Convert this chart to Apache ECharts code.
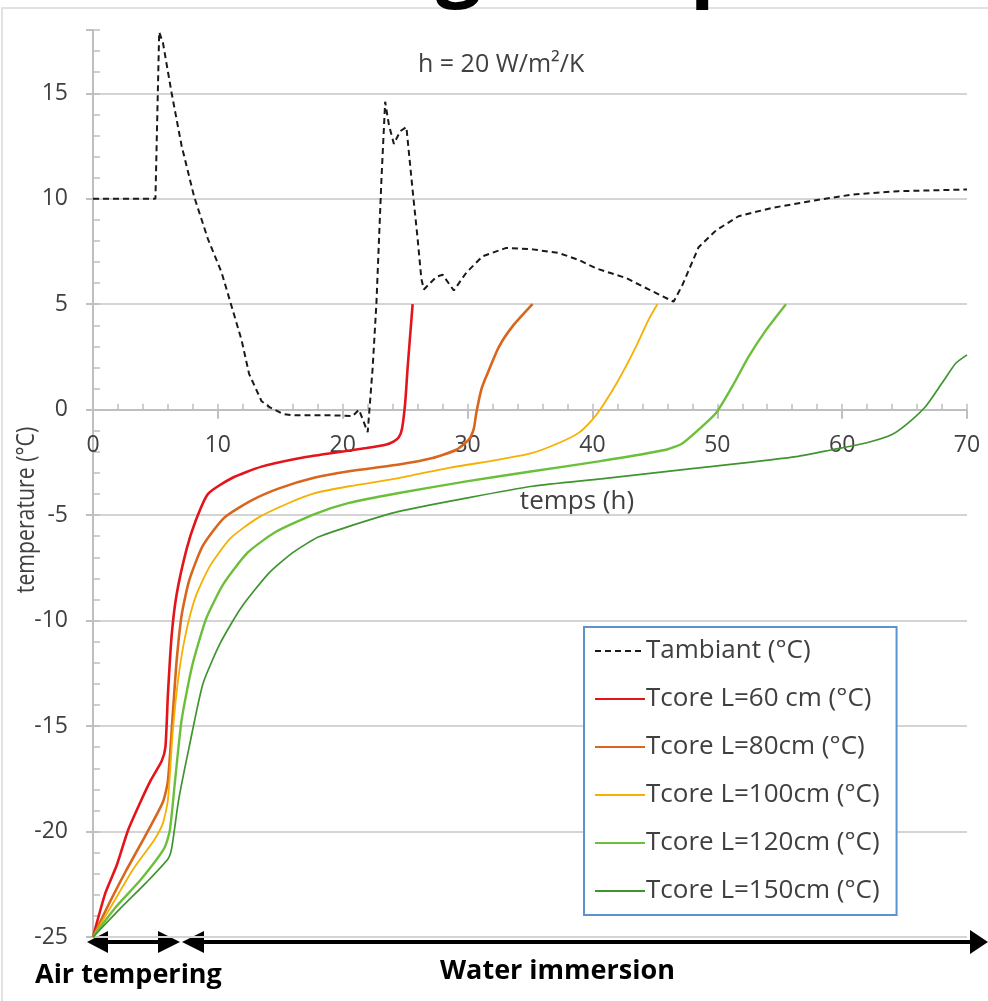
<!DOCTYPE html>
<html>
<head>
<meta charset="utf-8">
<script src="https://cdn.jsdelivr.net/npm/echarts@6/dist/echarts.min.js"></script>
<style>
  html, body { margin: 0; padding: 0; background: #fff; }
  #chart { width: 988px; height: 1001px; }
</style>
</head>
<body>
<div id="chart"></div>
<script>
// axes
var xTicks = [0, 10, 20, 30, 40, 50, 60, 70];
var yTicks = [-25, -20, -15, -10, -5, 0, 5, 10, 15];
var yMax = 18;

// ambient temperature (dashed)
var timeAmb = [0, 5, 5.3, 5.6, 6.3, 7.1, 8.1, 9.2, 10.3, 11.1, 11.9, 12.5, 13.5, 14.2, 15.2, 16, 19.2, 20.8, 21.3, 22.0, 22.4, 22.7, 23.1, 23.4, 23.7, 24.1, 24.6, 25.1, 25.6, 26.0, 26.3, 26.5, 27.0, 27.5, 28.0, 28.9, 29.9, 31.2, 33.1, 35.2, 37.3, 38.9, 40.3, 42.7, 44.5, 46.5, 47.2, 48.5, 49.9, 51.7, 54.4, 57.9, 60.8, 64.5, 70];
var tempAmb = [10, 10, 17.9, 17.4, 15.0, 12.5, 10.1, 8.1, 6.5, 4.9, 3.3, 1.7, 0.4, 0.1, -0.2, -0.27, -0.27, -0.3, 0, -1.07, 2, 5.05, 10.9, 14.6, 13.5, 12.6, 13.2, 13.4, 10.4, 8.1, 6.2, 5.7, 6.0, 6.3, 6.4, 5.65, 6.5, 7.27, 7.67, 7.6, 7.43, 7.1, 6.7, 6.24, 5.7, 5.12, 5.9, 7.7, 8.5, 9.17, 9.57, 9.93, 10.2, 10.36, 10.44];

// core temperatures
var time60 = [0, 1.0, 1.9, 2.8, 3.8, 4.6, 5.5, 5.8, 6.0, 6.3, 6.7, 7.5, 8.2, 9.2, 11.1, 13.5, 16.5, 19.2, 21.9, 23.5, 24.1, 24.5, 24.75, 25.0, 25.2, 25.6];
var temp60 = [-25, -22.9, -21.6, -19.95, -18.6, -17.6, -16.66, -16.0, -13.5, -10.7, -8.75, -6.6, -5.3, -4.0, -3.25, -2.7, -2.3, -2.05, -1.82, -1.65, -1.5, -1.3, -0.9, 0.3, 2.0, 5.0];

var time80 = [0, 1.3, 2.7, 4.1, 5.6, 6.0, 6.4, 6.7, 7.1, 7.7, 8.8, 10.5, 12.7, 14.9, 17.7, 20.5, 24.5, 27.2, 29.1, 30.1, 30.5, 30.7, 31.1, 31.5, 32.5, 33.6, 35.2];
var temp80 = [-25, -23.4, -21.8, -20.3, -18.6, -17.6, -14.35, -11.9, -9.74, -8.1, -6.45, -5.13, -4.3, -3.73, -3.23, -2.92, -2.6, -2.29, -1.9, -1.42, -0.9, -0.16, 0.95, 1.58, 2.97, 3.95, 5.0];

var time100 = [0, 1.6, 3.2, 4.9, 5.6, 6.0, 6.4, 6.84, 7.4, 8.2, 9.35, 11.0, 13.2, 15.5, 17.7, 20.5, 24.5, 28.5, 32.5, 35.2, 37.3, 38.9, 40.0, 40.8, 42.1, 43.5, 44.5, 45.2];
var temp100 = [-25, -23.4, -21.8, -20.4, -19.6, -18.5, -15.2, -12.7, -10.7, -8.9, -7.43, -6.1, -5.13, -4.47, -3.97, -3.63, -3.24, -2.76, -2.37, -2.05, -1.58, -1.1, -0.47, 0.16, 1.42, 3.0, 4.27, 5.0];

var time120 = [0, 1.8, 3.8, 5.7, 6.15, 6.57, 7.1, 7.96, 9.07, 10.45, 12.4, 14.65, 17.7, 20.5, 24.5, 29.9, 35.2, 40.5, 45.9, 47.2, 48.5, 49.9, 51.2, 52.5, 53.9, 55.5];
var temp120 = [-25, -23.6, -22.3, -20.8, -19.95, -17.6, -14.7, -12.1, -9.9, -8.26, -6.77, -5.79, -4.96, -4.42, -3.95, -3.4, -2.92, -2.45, -1.9, -1.6, -0.95, -0.16, 1.1, 2.5, 3.77, 5.0];

var time150 = [0, 2.1, 4.3, 6.0, 6.3, 6.86, 7.7, 8.8, 10.2, 11.85, 14.07, 16.0, 18.0, 20.5, 24.5, 29.9, 35.2, 40.7, 48.5, 56.5, 59.2, 61.9, 64.0, 65.3, 66.7, 68.0, 69.1, 70];
var temp150 = [-25, -23.7, -22.4, -21.3, -20.8, -18.5, -16.0, -13.0, -11.06, -9.4, -7.76, -6.78, -6.05, -5.53, -4.82, -4.19, -3.63, -3.28, -2.76, -2.21, -1.9, -1.58, -1.18, -0.63, 0.16, 1.26, 2.2, 2.6];

var seriesNames = ['Tambiant (°C)', 'Tcore L=60 cm (°C)', 'Tcore L=80cm (°C)', 'Tcore L=100cm (°C)', 'Tcore L=120cm (°C)', 'Tcore L=150cm (°C)'];
var seriesColors = ['#1a1a1a', '#e3151b', '#d8661e', '#f5b000', '#6cbf3a', '#3f9430'];
var seriesWidths = [2, 2.6, 2.6, 1.8, 2.4, 1.7];

function pairs(xs, ys) {
  return xs.map(function (x, i) { return [x, ys[i]]; });
}

var allData = [
  pairs(timeAmb, tempAmb),
  pairs(time60, temp60),
  pairs(time80, temp80),
  pairs(time100, temp100),
  pairs(time120, temp120),
  pairs(time150, temp150)
];

var FONT = '"Open Sans", sans-serif';
var AXIS_GREY = '#bfbfbf';
var GRID_TOP = 30, GRID_BOTTOM = 64, H = 1001;
// place the time axis on y = 0
var plotH = H - GRID_TOP - GRID_BOTTOM;
var zeroOffset = plotH * (0 - yTicks[0]) / (yMax - yTicks[0]);

var clear = 'rgba(0,0,0,0)';
var gridColors = ['#d4d4d4', clear, clear, clear, clear];

var chart = echarts.init(document.getElementById('chart'), null, { renderer: 'canvas' });

var series = allData.map(function (d, i) {
  return {
    name: seriesNames[i],
    type: 'line',
    data: d,
    symbol: 'none',
    showSymbol: false,
    smooth: i === 0 ? false : 0.2,
    lineStyle: {
      color: seriesColors[i],
      width: seriesWidths[i],
      type: i === 0 ? [6, 4] : 'solid'
    },
    itemStyle: { color: seriesColors[i] },
    z: 3
  };
});

var option = {
  backgroundColor: '#ffffff',
  animation: false,
  textStyle: { fontFamily: FONT },
  grid: { left: 93, right: 21, top: GRID_TOP, bottom: GRID_BOTTOM, containLabel: false },
  xAxis: [{
    type: 'value',
    min: xTicks[0],
    max: xTicks[xTicks.length - 1],
    interval: 10,
    offset: -zeroOffset,
    axisLine: { onZero: false, lineStyle: { color: AXIS_GREY, width: 2 } },
    axisTick: { show: true, length: 9, lineStyle: { color: AXIS_GREY, width: 2 } },
    axisLabel: { color: '#404040', fontSize: 23, margin: 24, fontFamily: FONT },
    splitLine: { show: false }
  }, {
    // minor ticks pointing up
    type: 'value',
    min: xTicks[0],
    max: xTicks[xTicks.length - 1],
    interval: 2,
    position: 'bottom',
    offset: -zeroOffset,
    axisLine: { show: false, onZero: false },
    axisTick: { show: true, inside: true, length: 6, lineStyle: { color: AXIS_GREY, width: 1.5 } },
    axisLabel: { show: false },
    splitLine: { show: false }
  }],
  yAxis: [{
    type: 'value',
    min: yTicks[0],
    max: yMax,
    interval: 1,
    axisLine: { show: true, lineStyle: { color: AXIS_GREY, width: 2 } },
    axisTick: { show: true, inside: true, length: 7, lineStyle: { color: AXIS_GREY, width: 1.5 } },
    axisLabel: {
      color: '#404040', fontSize: 23, margin: 25, fontFamily: FONT,
      formatter: function (v) { return yTicks.indexOf(v) >= 0 ? String(v) : ''; }
    },
    splitLine: { show: true, lineStyle: { color: gridColors, width: 2 } }
  }, {
    // major ticks crossing to the left
    type: 'value',
    min: yTicks[0],
    max: yMax,
    interval: 5,
    position: 'left',
    axisLine: { show: false, onZero: false },
    axisTick: { show: true, length: 7, lineStyle: { color: AXIS_GREY, width: 2 } },
    axisLabel: { show: false },
    splitLine: { show: false }
  }],
  legend: {
    orient: 'vertical',
    left: 584,
    top: 627,
    padding: [11, 17, 11, 10],
    itemWidth: 50,
    itemHeight: 26,
    itemGap: 22,
    backgroundColor: '#ffffff',
    borderColor: '#5b93cf',
    borderWidth: 2,
    borderRadius: 0,
    data: seriesNames,
    itemStyle: { opacity: 0 },
    textStyle: { color: '#404040', fontSize: 26, fontFamily: FONT, padding: [0, 0, 0, -4] }
  },
  graphic: [
    { type: 'rect', shape: { x: 2, y: 8, width: 1100, height: 1100 }, style: { fill: 'none', stroke: '#d9d9d9', lineWidth: 1.5 }, silent: true },
    // bottoms of the slide heading, cut by the image edge
    { type: 'text', x: 436, y: 8, style: { text: 'g', font: 'bold 80px ' + FONT, fill: '#000', verticalAlign: 'bottom' } },
    { type: 'text', x: 690, y: 8, style: { text: 'p', font: 'bold 80px ' + FONT, fill: '#000', verticalAlign: 'bottom' } },
    { type: 'text', x: 418, y: 65, style: { text: 'h = 20 W/m²/K', font: '25px ' + FONT, fill: '#404040', verticalAlign: 'middle' } },
    { type: 'text', x: 577, y: 502, style: { text: 'temps (h)', font: '26px ' + FONT, fill: '#404040', align: 'center', verticalAlign: 'middle' } },
    { type: 'text', x: 27, y: 510, rotation: Math.PI / 2, scaleX: 0.85, style: { text: 'temperature (°C)', font: '25px ' + FONT, fill: '#404040', align: 'center', verticalAlign: 'middle' } },
    // arrows
    { type: 'line', shape: { x1: 100, y1: 942, x2: 170, y2: 942 }, style: { stroke: '#000', lineWidth: 4 } },
    { type: 'polygon', shape: { points: [[87, 942], [108, 931], [108, 953]] }, style: { fill: '#000' } },
    { type: 'polygon', shape: { points: [[180, 942], [158, 931], [158, 953]] }, style: { fill: '#000' } },
    { type: 'line', shape: { x1: 196, y1: 942, x2: 975, y2: 942 }, style: { stroke: '#000', lineWidth: 4 } },
    { type: 'polygon', shape: { points: [[182, 942], [204, 931], [204, 953]] }, style: { fill: '#000' } },
    { type: 'polygon', shape: { points: [[988, 942], [970, 930], [970, 954]] }, style: { fill: '#000' } },
    { type: 'text', x: 35, y: 975, style: { text: 'Air tempering', font: 'bold 27px ' + FONT, fill: '#000', verticalAlign: 'middle' } },
    { type: 'text', x: 440, y: 971, style: { text: 'Water immersion', font: 'bold 27px ' + FONT, fill: '#000', verticalAlign: 'middle' } }
  ],
  series: series
};

chart.setOption(option);
</script>
</body>
</html>
